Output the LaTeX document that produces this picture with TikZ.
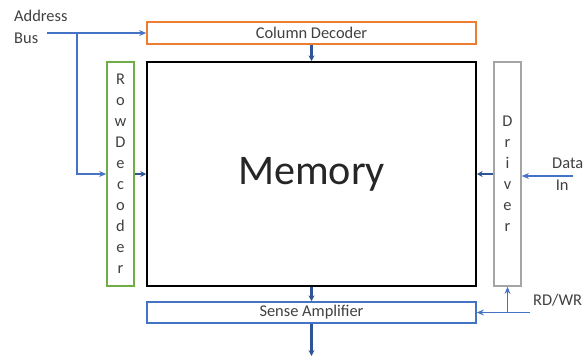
\documentclass[tikz,border=0pt]{standalone}
\usepackage{fontspec}
\setmainfont{Carlito}
\usetikzlibrary{arrows.meta}
\definecolor{colOrange}{HTML}{ED7D31}
\definecolor{colGreen}{HTML}{70AD47}
\definecolor{colGray}{HTML}{A5A5A5}
\definecolor{colBus}{HTML}{4472C4}
\definecolor{colLink}{HTML}{2F5597}
\colorlet{colText}{black!75}

\begin{document}
\begin{tikzpicture}[x=0.03cm, y=-0.03cm,
        box/.style={draw, line width=1.3pt, align=center, inner sep=0pt, text=colText, font=\fontsize{14}{16}\selectfont},
        hbox/.style={box, minimum width=9.87cm, minimum height=0.66cm},
        vbox/.style={box, minimum width=0.81cm, minimum height=6.72cm, font=\fontsize{14}{17.9}\selectfont},
        arr/.style={-{Stealth[length=6pt,width=5pt]}, line width=1.2pt, draw=colBus},
        link/.style={-{Stealth[length=5pt,width=5pt]}, line width=1.8pt, draw=colLink},
        lbl/.style={align=left, inner sep=0pt, text=colText, font=\fontsize{14}{19}\selectfont}
    ]
        \useasboundingbox (0,0) rectangle (585,356);

        % --- BLOQUES ---
        \node[hbox, draw=colOrange] (coldec) at (311.5, 33) {Column Decoder};
        \node[box, draw=black, minimum width=9.87cm, minimum height=6.72cm, font=\fontsize{36}{40}\selectfont, text=black!85] (mem) at (311.5, 174) {\raisebox{-0.17cm}{Memory}};
        \node[vbox, draw=colGreen] (rowdec) at (120.5, 174) {R\\o\\w\\D\\e\\c\\o\\d\\e\\r};
        \node[vbox, draw=colGray] (drv) at (507.5, 174) {D\\r\\i\\v\\e\\r};
        \node[hbox, draw=colBus, minimum height=0.63cm] (sense) at (311.5, 312.5) {Sense Amplifier};

        % --- ETIQUETAS ---
        \node[lbl, anchor=north west] (addrtxt) at (14, 10) {Address\\Bus};
        \node[lbl, anchor=west] (datatxt) at (552, 174) {Data\\\hspace*{3pt}In};
        \node[lbl, anchor=west] (rdwrtxt) at (533, 300) {RD/WR};

        % --- PUNTOS DE CONEXION ---
        \coordinate (addr) at (47, 33);
        \coordinate (addrsplit) at (77, 33);
        \coordinate (datain) at (573, 176);
        \coordinate (rdwr) at (530, 312.5);
        \coordinate (rdwrsplit) at (507.5, 312.5);
        \coordinate (out) at (311.5, 356);

        % Conexiones de entrada
        \draw[arr] (addr) -- (coldec.west);
        \draw[arr] (addrsplit) |- (rowdec.west);
        \draw[arr] (datain) -- (datain -| drv.east);
        \draw[arr] (rdwr) -- (sense.east);
        \draw[arr] (rdwrsplit) -- (drv.south);

        % Conexiones internas
        \draw[link] (coldec.south) -- (mem.north);
        \draw[link] (rowdec.east) -- (mem.west);
        \draw[link] (drv.west) -- (mem.east);
        \draw[link] (mem.south) -- (sense.north);
        \draw[link] (sense.south) -- (out);
    \end{tikzpicture}
\end{document}
